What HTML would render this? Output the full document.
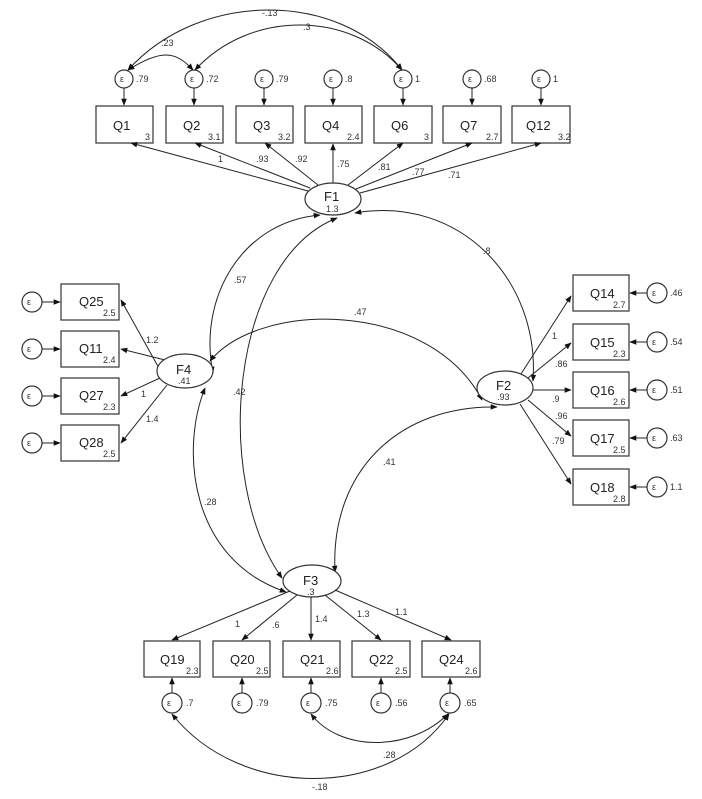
<!DOCTYPE html>
<html><head><meta charset="utf-8"><style>
html,body{margin:0;padding:0;background:#fff;}
svg{display:block;font-family:"Liberation Sans",Arial,sans-serif;}
.b{fill:#fff;stroke:#333;stroke-width:1.2}
.l{stroke:#222;stroke-width:1;fill:none}
.t{font-size:13px;fill:#222}
.s{font-size:9px;fill:#333}
.e{font-size:9px;fill:#333}
</style></head><body>
<svg width="702" height="799" viewBox="0 0 702 799" xmlns="http://www.w3.org/2000/svg">
<defs>
<marker id="a" viewBox="0 0 10 10" refX="9" refY="5" markerWidth="7" markerHeight="7" orient="auto-start-reverse" markerUnits="userSpaceOnUse"><path d="M0,1 L10,5 L0,9 z" fill="#111"/></marker>
</defs>

<!-- top covariance arcs -->
<path class="l" d="M128,70 C160,50 175,50 193,70" marker-start="url(#a)" marker-end="url(#a)"/>
<path class="l" d="M128,70 C200,-10 340,-10 402,70" marker-start="url(#a)" marker-end="url(#a)"/>
<path class="l" d="M195,70 C250,10 350,10 402,70" marker-start="url(#a)" marker-end="url(#a)"/>
<text class="e" x="161" y="46">.23</text>
<text class="e" x="262" y="16">-.13</text>
<text class="e" x="303" y="30">.3</text>

<!-- top items -->
<g>
<rect class="b" x="96" y="106" width="57" height="37"/><text class="t" x="113" y="130">Q1</text><text class="s" x="145" y="140">3</text>
<rect class="b" x="166" y="106" width="57" height="37"/><text class="t" x="183" y="130">Q2</text><text class="s" x="208" y="140">3.1</text>
<rect class="b" x="236" y="106" width="57" height="37"/><text class="t" x="253" y="130">Q3</text><text class="s" x="278" y="140">3.2</text>
<rect class="b" x="305" y="106" width="57" height="37"/><text class="t" x="322" y="130">Q4</text><text class="s" x="347" y="140">2.4</text>
<rect class="b" x="374" y="106" width="58" height="37"/><text class="t" x="391" y="130">Q6</text><text class="s" x="424" y="140">3</text>
<rect class="b" x="443" y="106" width="58" height="37"/><text class="t" x="460" y="130">Q7</text><text class="s" x="486" y="140">2.7</text>
<rect class="b" x="512" y="106" width="58" height="37"/><text class="t" x="526" y="130">Q12</text><text class="s" x="558" y="140">3.2</text>
</g>
<g>
<circle class="b" cx="124" cy="79" r="9"/><text class="e" x="120" y="82">ε</text><text class="e" x="136" y="82">.79</text><path class="l" d="M124,88 V105" marker-end="url(#a)"/>
<circle class="b" cx="194" cy="79" r="9"/><text class="e" x="190" y="82">ε</text><text class="e" x="206" y="82">.72</text><path class="l" d="M194,88 V105" marker-end="url(#a)"/>
<circle class="b" cx="264" cy="79" r="9"/><text class="e" x="260" y="82">ε</text><text class="e" x="276" y="82">.79</text><path class="l" d="M264,88 V105" marker-end="url(#a)"/>
<circle class="b" cx="333" cy="79" r="9"/><text class="e" x="329" y="82">ε</text><text class="e" x="345" y="82">.8</text><path class="l" d="M333,88 V105" marker-end="url(#a)"/>
<circle class="b" cx="403" cy="79" r="9"/><text class="e" x="399" y="82">ε</text><text class="e" x="415" y="82">1</text><path class="l" d="M403,88 V105" marker-end="url(#a)"/>
<circle class="b" cx="472" cy="79" r="9"/><text class="e" x="468" y="82">ε</text><text class="e" x="484" y="82">.68</text><path class="l" d="M472,88 V105" marker-end="url(#a)"/>
<circle class="b" cx="541" cy="79" r="9"/><text class="e" x="537" y="82">ε</text><text class="e" x="553" y="82">1</text><path class="l" d="M541,88 V105" marker-end="url(#a)"/>
</g>
<!-- F1 loadings -->
<path class="l" d="M308,191 L131,143" marker-end="url(#a)"/>
<path class="l" d="M310,188 L195,143" marker-end="url(#a)"/>
<path class="l" d="M318,185 L265,143" marker-end="url(#a)"/>
<path class="l" d="M333,183 V144" marker-end="url(#a)"/>
<path class="l" d="M348,185 L403,143" marker-end="url(#a)"/>
<path class="l" d="M356,189 L472,143" marker-end="url(#a)"/>
<path class="l" d="M360,193 L541,143" marker-end="url(#a)"/>
<text class="e" x="218" y="162">1</text><text class="e" x="256" y="162">.93</text><text class="e" x="295" y="162">.92</text><text class="e" x="337" y="167">.75</text><text class="e" x="378" y="170">.81</text><text class="e" x="412" y="175">.77</text><text class="e" x="448" y="178">.71</text>
<ellipse class="b" cx="333" cy="199" rx="28" ry="16"/><text class="t" x="324" y="201">F1</text><text class="e" x="326" y="212">1.3</text>

<!-- factor covariances -->
<path class="l" d="M320,215 C240,222 198,300 213,373" marker-start="url(#a)" marker-end="url(#a)"/>
<path class="l" d="M337,218 C230,260 212,480 282,578" marker-start="url(#a)" marker-end="url(#a)"/>
<path class="l" d="M355,213 C460,195 540,280 533,381" marker-start="url(#a)" marker-end="url(#a)"/>
<path class="l" d="M210,361 C260,300 430,300 482,400" marker-start="url(#a)" marker-end="url(#a)"/>
<path class="l" d="M497,407 C400,405 330,470 335,572" marker-start="url(#a)" marker-end="url(#a)"/>
<path class="l" d="M205,388 C180,450 190,560 286,592" marker-start="url(#a)" marker-end="url(#a)"/>
<text class="e" x="234" y="283">.57</text>
<text class="e" x="483" y="254">.8</text>
<text class="e" x="354" y="315">.47</text>
<text class="e" x="233" y="395">.42</text>
<text class="e" x="383" y="465">.41</text>
<text class="e" x="204" y="505">.28</text>

<!-- F4 -->
<rect class="b" x="61" y="284" width="58" height="36"/><text class="t" x="79" y="306">Q25</text><text class="s" x="103" y="316">2.5</text>
<rect class="b" x="61" y="331" width="58" height="36"/><text class="t" x="79" y="353">Q11</text><text class="s" x="103" y="363">2.4</text>
<rect class="b" x="61" y="378" width="58" height="36"/><text class="t" x="79" y="400">Q27</text><text class="s" x="103" y="410">2.3</text>
<rect class="b" x="61" y="425" width="58" height="36"/><text class="t" x="79" y="447">Q28</text><text class="s" x="103" y="457">2.5</text>
<g>
<circle class="b" cx="32" cy="302" r="10"/><text class="e" x="27" y="305">ε</text><path class="l" d="M42,302 H60" marker-end="url(#a)"/>
<circle class="b" cx="32" cy="349" r="10"/><text class="e" x="27" y="352">ε</text><path class="l" d="M42,349 H60" marker-end="url(#a)"/>
<circle class="b" cx="32" cy="396" r="10"/><text class="e" x="27" y="399">ε</text><path class="l" d="M42,396 H60" marker-end="url(#a)"/>
<circle class="b" cx="32" cy="443" r="10"/><text class="e" x="27" y="446">ε</text><path class="l" d="M42,443 H60" marker-end="url(#a)"/>
</g>
<path class="l" d="M160,370 L121,300" marker-end="url(#a)"/>
<path class="l" d="M165,360 L121,349" marker-end="url(#a)"/>
<path class="l" d="M160,378 L121,396" marker-end="url(#a)"/>
<path class="l" d="M167,385 L121,443" marker-end="url(#a)"/>
<text class="e" x="146" y="343">1.2</text><text class="e" x="141" y="397">1</text><text class="e" x="146" y="422">1.4</text>
<ellipse class="b" cx="185" cy="371" rx="28" ry="17"/><text class="t" x="176" y="374">F4</text><text class="e" x="178" y="384">.41</text>

<!-- F2 -->
<rect class="b" x="573" y="275" width="56" height="36"/><text class="t" x="590" y="298">Q14</text><text class="s" x="613" y="308">2.7</text>
<rect class="b" x="573" y="324" width="56" height="36"/><text class="t" x="590" y="347">Q15</text><text class="s" x="613" y="357">2.3</text>
<rect class="b" x="573" y="372" width="56" height="36"/><text class="t" x="590" y="395">Q16</text><text class="s" x="613" y="405">2.6</text>
<rect class="b" x="573" y="420" width="56" height="36"/><text class="t" x="590" y="443">Q17</text><text class="s" x="613" y="453">2.5</text>
<rect class="b" x="573" y="469" width="56" height="36"/><text class="t" x="590" y="492">Q18</text><text class="s" x="613" y="502">2.8</text>
<g>
<circle class="b" cx="657" cy="293" r="10"/><text class="e" x="652" y="296">ε</text><text class="e" x="670" y="296">.46</text><path class="l" d="M647,293 H630" marker-end="url(#a)"/>
<circle class="b" cx="657" cy="342" r="10"/><text class="e" x="652" y="345">ε</text><text class="e" x="670" y="345">.54</text><path class="l" d="M647,342 H630" marker-end="url(#a)"/>
<circle class="b" cx="657" cy="390" r="10"/><text class="e" x="652" y="393">ε</text><text class="e" x="670" y="393">.51</text><path class="l" d="M647,390 H630" marker-end="url(#a)"/>
<circle class="b" cx="657" cy="438" r="10"/><text class="e" x="652" y="441">ε</text><text class="e" x="670" y="441">.63</text><path class="l" d="M647,438 H630" marker-end="url(#a)"/>
<circle class="b" cx="657" cy="487" r="10"/><text class="e" x="652" y="490">ε</text><text class="e" x="670" y="490">1.1</text><path class="l" d="M647,487 H630" marker-end="url(#a)"/>
</g>
<path class="l" d="M521,374 L571,296" marker-end="url(#a)"/>
<path class="l" d="M528,378 L571,343" marker-end="url(#a)"/>
<path class="l" d="M533,390 H571" marker-end="url(#a)"/>
<path class="l" d="M528,400 L571,436" marker-end="url(#a)"/>
<path class="l" d="M520,404 L571,484" marker-end="url(#a)"/>
<text class="e" x="552" y="339">1</text><text class="e" x="555" y="367">.86</text><text class="e" x="552" y="402">.9</text><text class="e" x="555" y="419">.96</text><text class="e" x="552" y="444">.79</text>
<ellipse class="b" cx="505" cy="388" rx="28" ry="17"/><text class="t" x="496" y="390">F2</text><text class="e" x="497" y="400">.93</text>

<!-- F3 -->
<ellipse class="b" cx="312" cy="581" rx="29" ry="16"/><text class="t" x="303" y="585">F3</text><text class="e" x="307" y="595">.3</text>
<path class="l" d="M290,591 L172,640" marker-end="url(#a)"/>
<path class="l" d="M297,595 L242,640" marker-end="url(#a)"/>
<path class="l" d="M311,597 V640" marker-end="url(#a)"/>
<path class="l" d="M325,595 L381,640" marker-end="url(#a)"/>
<path class="l" d="M335,590 L451,640" marker-end="url(#a)"/>
<text class="e" x="235" y="627">1</text><text class="e" x="272" y="628">.6</text><text class="e" x="315" y="622">1.4</text><text class="e" x="357" y="617">1.3</text><text class="e" x="395" y="615">1.1</text>
<rect class="b" x="144" y="641" width="56" height="36"/><text class="t" x="160" y="664">Q19</text><text class="s" x="186" y="674">2.3</text>
<rect class="b" x="213" y="641" width="57" height="36"/><text class="t" x="230" y="664">Q20</text><text class="s" x="256" y="674">2.5</text>
<rect class="b" x="283" y="641" width="57" height="36"/><text class="t" x="300" y="664">Q21</text><text class="s" x="326" y="674">2.6</text>
<rect class="b" x="352" y="641" width="58" height="36"/><text class="t" x="369" y="664">Q22</text><text class="s" x="395" y="674">2.5</text>
<rect class="b" x="422" y="641" width="58" height="36"/><text class="t" x="439" y="664">Q24</text><text class="s" x="465" y="674">2.6</text>
<g>
<circle class="b" cx="172" cy="703" r="10"/><text class="e" x="167" y="706">ε</text><text class="e" x="186" y="706">.7</text><path class="l" d="M172,693 V678" marker-end="url(#a)"/>
<circle class="b" cx="242" cy="703" r="10"/><text class="e" x="237" y="706">ε</text><text class="e" x="256" y="706">.79</text><path class="l" d="M242,693 V678" marker-end="url(#a)"/>
<circle class="b" cx="311" cy="703" r="10"/><text class="e" x="306" y="706">ε</text><text class="e" x="325" y="706">.75</text><path class="l" d="M311,693 V678" marker-end="url(#a)"/>
<circle class="b" cx="381" cy="703" r="10"/><text class="e" x="376" y="706">ε</text><text class="e" x="395" y="706">.56</text><path class="l" d="M381,693 V678" marker-end="url(#a)"/>
<circle class="b" cx="450" cy="703" r="10"/><text class="e" x="445" y="706">ε</text><text class="e" x="464" y="706">.65</text><path class="l" d="M450,693 V678" marker-end="url(#a)"/>
</g>
<path class="l" d="M311,714 C340,752 410,752 448,714" marker-start="url(#a)" marker-end="url(#a)"/>
<path class="l" d="M172,714 C240,800 390,800 449,714" marker-start="url(#a)" marker-end="url(#a)"/>
<text class="e" x="383" y="758">.28</text>
<text class="e" x="312" y="790">-.18</text>
</svg>
</body></html>
